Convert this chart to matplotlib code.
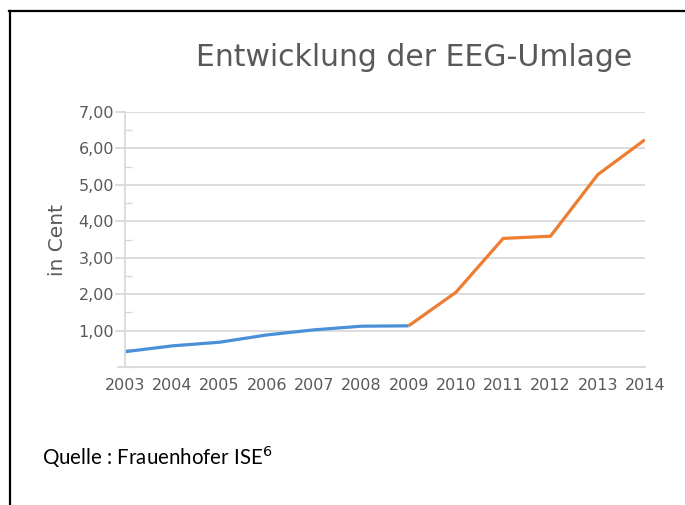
import matplotlib.pyplot as plt
from matplotlib.lines import Line2D
from matplotlib.ticker import MultipleLocator, FuncFormatter

years = [2003, 2004, 2005, 2006, 2007, 2008, 2009, 2010, 2011, 2012, 2013, 2014]
umlage_blue = [0.42, 0.58, 0.68, 0.88, 1.02, 1.12, 1.13]
umlage_orange = [1.13, 2.05, 3.53, 3.59, 5.28, 6.24]
yticks = [1, 2, 3, 4, 5, 6, 7]

grey = '#595959'
light = '#d9d9d9'
fig = plt.figure(figsize=(6.85, 5.05), dpi=100)
ax = fig.add_axes([125/685, 1 - 367/505, 520/685, 255/505])

ax.plot(years[:7], umlage_blue, color='#4a90d9', lw=2.3, solid_capstyle='butt')
ax.plot(years[6:], umlage_orange, color='#ed7d31', lw=2.3, solid_capstyle='butt')

ax.set_xlim(years[0], years[-1])
ax.set_ylim(0, 7)
ax.set_xticks(years)
ax.set_yticks(yticks)
ax.yaxis.set_minor_locator(MultipleLocator(0.5))
ax.yaxis.set_major_formatter(FuncFormatter(lambda v, p: f'{v:.2f}'.replace('.', ',')))
ax.tick_params(axis='x', which='major', length=0, labelsize=11.5, colors=grey, pad=8)
ax.tick_params(axis='y', which='major', length=7, width=1.3, color=light,
               labelsize=11.5, labelcolor=grey, pad=1)
ax.tick_params(axis='y', which='minor', direction='in', length=5, color=light, width=1)
ax.grid(axis='y', color=light, lw=1.3)
ax.set_axisbelow(True)
for s in ['top', 'right']:
    ax.spines[s].set_visible(False)
for s in ['left', 'bottom']:
    ax.spines[s].set_color(light)
    ax.spines[s].set_linewidth(1.3)
ax.spines['bottom'].set_bounds(2002.85, 2014)
ax.set_ylabel('in Cent', fontsize=14.5, color=grey, labelpad=8)

fig.text(414/685, 1 - 58/505, 'Entwicklung der EEG-Umlage', fontsize=21.5,
         color=grey, ha='center', va='center')
fig.text(42/685, 1 - 457/505, 'Quelle : Frauenhofer ISE$^{6}$',
         fontsize=14.8, family=['Lato', 'DejaVu Sans'],
         color='black', ha='left', va='center')

# page frame
fig.add_artist(Line2D([10/685, 10/685], [0, 1 - 11/505], transform=fig.transFigure,
                      color='black', lw=1.6))
fig.add_artist(Line2D([9.2/685, 1], [1 - 11/505, 1 - 11/505], transform=fig.transFigure,
                      color='black', lw=1.6))

fig.savefig('out.png', dpi=100)
